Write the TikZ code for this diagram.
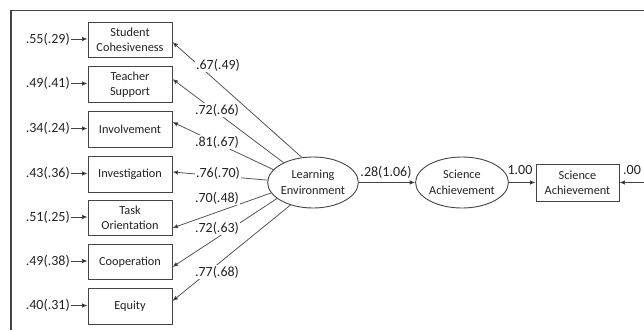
\documentclass[tikz,border=0pt]{standalone}
\usepackage{fontspec}
\setmainfont{Carlito}
\usetikzlibrary{arrows.meta,shapes.geometric}
\definecolor{ln}{HTML}{555555}
\definecolor{bd}{HTML}{444444}
\definecolor{tx}{HTML}{222222}
\begin{document}
\begin{tikzpicture}[x=1pt,y=-1pt,
  every node/.style={text=tx},
  obs/.style={draw=bd,line width=0.9pt,minimum width=84pt,minimum height=35.5pt,inner sep=0pt,align=center,font=\fontsize{12.3}{15}\selectfont},
  lat/.style={draw=bd,line width=0.9pt,ellipse,minimum width=90pt,minimum height=51pt,inner sep=0pt,align=center,font=\fontsize{12.3}{16}\selectfont},
  num/.style={font=\fontsize{14}{16}\selectfont,inner sep=1pt},
  lnum/.style={num,fill=white},
  arr/.style={draw=bd,line width=0.9pt,-{Latex[length=5.5pt,width=4.5pt,fill=black]}},
  load/.style={draw=ln,line width=0.8pt,-{Latex[length=5.5pt,width=4.5pt,fill=black]}}]
\useasboundingbox (0,0) rectangle (644,330);
\draw[bd,line width=1.6pt] (11,330) -- (11,10.5) -- (644,10.5);
% observed boxes
\node[obs] (b1) at (130,40) {Student\\Cohesiveness};
\node[obs] (b2) at (130,84.5) {Teacher\\Support};
\node[obs] (b3) at (130,129.5) {Involvement};
\node[obs] (b4) at (130,174.5) {Investigation};
\node[obs] (b5) at (130,218) {Task\\Orientation};
\node[obs] (b6) at (130,262) {Cooperation};
\node[obs] (b7) at (130,306.5) {Equity};
% error labels
\node[num,anchor=east] (e1) at (71,39) {.55(.29)};
\node[num,anchor=east] (e2) at (71,83.5) {.49(.41)};
\node[num,anchor=east] (e3) at (71,128.5) {.34(.24)};
\node[num,anchor=east] (e4) at (71,173.5) {.43(.36)};
\node[num,anchor=east] (e5) at (71,217) {.51(.25)};
\node[num,anchor=east] (e6) at (71,261) {.49(.38)};
\node[num,anchor=east] (e7) at (71,305.5) {.40(.31)};
\foreach \i in {1,...,7}{\draw[arr] (e\i.east) -- (b\i.west|-e\i.east);}
% latent
\node[lat] (le) at (313,182.5) {Learning\\Environment};
\node[lat] (sa) at (462,182.5) {Science\\Achievement};
\node[obs,minimum width=83pt,minimum height=37pt] (sb) at (577.5,182.5) {Science\\Achievement};
\coordinate (rend) at (644,182.5);
% loadings
\draw[load] (le.114) -- ([yshift=-2pt]b1.east);
\draw[load] (le.146) -- ([yshift=5.5pt]b2.east);
\draw[load] (le.162) -- ([yshift=7.5pt]b3.east);
\draw[load] (le.177) -- ([yshift=2.5pt]b4.east);
\draw[load] (le.194) -- ([yshift=-10pt]b5.east);
\draw[load] (le.204) -- ([yshift=-5pt]b6.east);
\draw[load] (le.225) -- ([yshift=5.5pt]b7.east);
\node[lnum] (l1) at (218,65) {.67(.49)};
\node[lnum] (l2) at (217,110) {.72(.66)};
\node[lnum] (l3) at (217,142) {.81(.67)};
\node[lnum] (l4) at (218,173) {.76(.70)};
\node[lnum] (l5) at (217,198) {.70(.48)};
\node[lnum] (l6) at (217,228) {.72(.63)};
\node[lnum] (l7) at (217,272) {.77(.68)};
% structural
\draw[arr] (le.east) -- (sa.west);
\node[num] at (386,172) {.28(1.06)};
\draw[arr] (sa.east) -- (sb.west);
\node[num] at (520,170) {1.00};
\draw[arr] (rend) -- (sb.east);
\node[num] at (632,170) {.00};
\end{tikzpicture}
\end{document}
